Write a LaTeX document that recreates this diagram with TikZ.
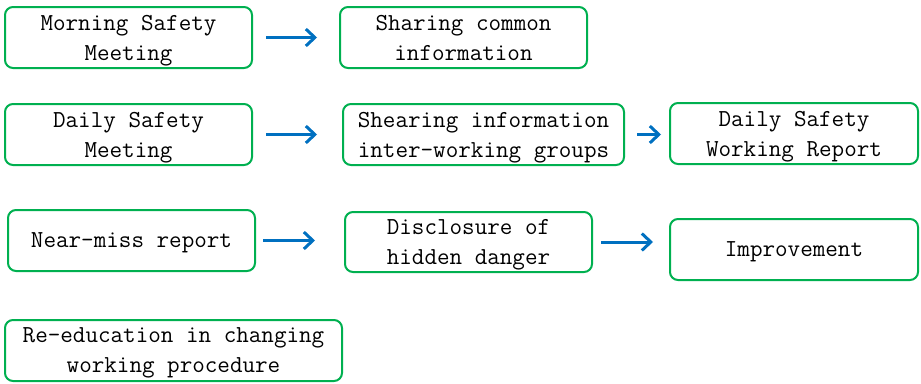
\documentclass[tikz,border=0pt]{standalone}
\usepackage{xcolor}
\usepackage{tikz}
\usetikzlibrary{positioning,calc,arrows.meta}

\definecolor{boxgreen}{RGB}{0,176,80}
\definecolor{arrowblue}{RGB}{0,112,192}

\tikzset{
    box/.style={draw=boxgreen, line width=2pt, rounded corners=8pt,
        minimum height=61pt, align=center, inner sep=0pt, text depth=-11pt,
        font=\ttfamily\fontsize{24.4}{30}\selectfont},
    flow/.style={draw=arrowblue, line width=3pt,
        -{Straight Barb[length=9pt,width=17pt]}}
}

\begin{document}
\begin{tikzpicture}[x=1pt,y=-1pt]
    \useasboundingbox (0,0) rectangle (921,383);

    % Row 1
    \node[box, minimum width=247pt] (morning) at (128.5,37.5) {Morning Safety\\Meeting};
    \node[box, minimum width=247pt] (sharing) at (463.5,37.5) {Sharing common\\information};
    \draw[flow, shorten <=13pt, shorten >=22pt] (morning) -- (sharing);

    % Row 2
    \node[box, minimum width=247pt] (daily) at (128.5,134.5) {Daily Safety\\Meeting};
    \node[box, minimum width=281pt] (shearing) at (483.5,134.5) {Shearing information\\inter-working groups};
    \node[box, minimum width=248pt] (report) at (794,133.5) {Daily Safety\\Working Report};
    \draw[flow, shorten <=13pt, shorten >=25pt] (daily) -- (shearing);
    \draw[flow, shorten <=12pt, shorten >=8pt] (shearing.east) -- (shearing.east -| report.west);

    % Row 3
    \node[box, minimum width=247pt] (nearmiss) at (131.5,240.5) {Near-miss report};
    \node[box, minimum width=247pt, minimum height=60pt] (hidden) at (468.5,242) {Disclosure of\\hidden danger};
    \node[box, minimum width=248pt] (improve) at (794,249.5) {Improvement};
    \draw[flow, shorten <=7pt, shorten >=29pt] (nearmiss.east) -- (nearmiss.east -| hidden.west);
    \draw[flow, shorten <=8pt, shorten >=16pt] (hidden.east) -- (hidden.east -| improve.west);

    % Row 4
    \node[box, minimum width=337pt] (reedu) at (173.5,350.5) {Re-education in changing\\working procedure};
\end{tikzpicture}
\end{document}
